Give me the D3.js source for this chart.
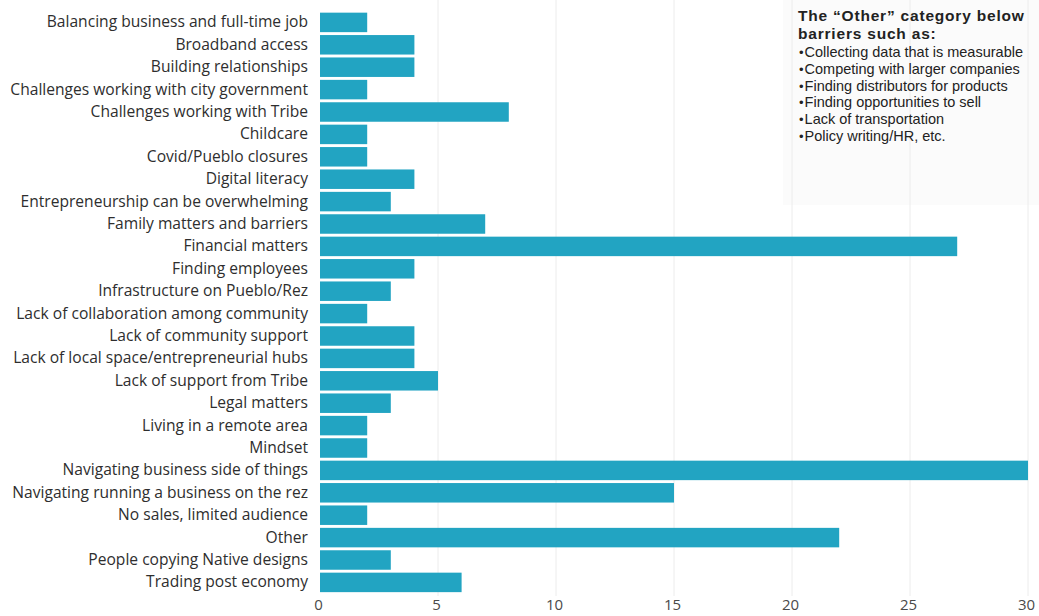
<!DOCTYPE html>
<html><head><meta charset="utf-8">
<script src="https://cdn.jsdelivr.net/npm/d3@7"></script>
<style>
html,body{margin:0;padding:0;background:#fff;overflow:hidden;}
svg{display:block;}
</style></head>
<body>
<svg id="chart" width="1039" height="616"></svg>
<script>
const categories = [
  "Balancing business and full-time job",
  "Broadband access",
  "Building relationships",
  "Challenges working with city government",
  "Challenges working with Tribe",
  "Childcare",
  "Covid/Pueblo closures",
  "Digital literacy",
  "Entrepreneurship can be overwhelming",
  "Family matters and barriers",
  "Financial matters",
  "Finding employees",
  "Infrastructure on Pueblo/Rez",
  "Lack of collaboration among community",
  "Lack of community support",
  "Lack of local space/entrepreneurial hubs",
  "Lack of support from Tribe",
  "Legal matters",
  "Living in a remote area",
  "Mindset",
  "Navigating business side of things",
  "Navigating running a business on the rez",
  "No sales, limited audience",
  "Other",
  "People copying Native designs",
  "Trading post economy"
];
const values = [2,4,4,2,8,2,2,4,3,7,27,4,3,2,4,4,5,3,2,2,30,15,2,22,3,6];
const xTicks = [0,5,10,15,20,25,30];
const noteTitle = ["The \u201COther\u201D category below", "barriers such as:"];
const noteItems = [
  "Collecting data that is measurable",
  "Competing with larger companies",
  "Finding distributors for products",
  "Finding opportunities to sell",
  "Lack of transportation",
  "Policy writing/HR, etc."
];

const svg = d3.select("#chart");
const x = d3.scaleLinear().domain([0,30]).range([320,1028]);
const y = d3.scaleBand().domain(categories).range([11.2,593.6]).paddingInner(0.13).paddingOuter(0.065);

// faint annotation panel
svg.append("rect").attr("x",783).attr("y",0).attr("width",256).attr("height",205).attr("fill","#fbfbfb");

// gridlines
svg.append("g").selectAll("line").data(xTicks.filter(d=>d>0)).join("line")
  .attr("x1",d=>x(d)).attr("x2",d=>x(d))
  .attr("y1",0).attr("y2",596)
  .attr("stroke","#ececec").attr("stroke-width",1);

// bars
svg.append("g").selectAll("rect").data(values).join("rect")
  .attr("x",x(0))
  .attr("y",(d,i)=>y(categories[i]))
  .attr("width",d=>x(d)-x(0))
  .attr("height",y.bandwidth())
  .attr("fill","#22a4c2");

// y axis labels
const yAxis = d3.axisLeft(y).tickSize(0).tickPadding(12);
const gy = svg.append("g").attr("transform",`translate(${x(0)},0)`).call(yAxis);
gy.select(".domain").remove();
gy.selectAll("text").attr("font-family","'Open Sans', sans-serif").attr("font-size","15.6px").attr("fill","#2e2e2e");

// x axis
const xAxis = d3.axisBottom(x).tickValues(xTicks).tickSize(0).tickPadding(0).tickFormat(d3.format("d"));
const gx = svg.append("g").attr("transform",`translate(-2,599)`).call(xAxis);
gx.select(".domain").remove();
gx.selectAll("text").attr("font-family","'Open Sans', sans-serif").attr("font-size","15px").attr("fill","#4a4a4a");

// annotation
const note = svg.append("g").attr("font-family","'Liberation Sans', Arial, sans-serif").attr("fill","#222");
note.selectAll("text.t").data(noteTitle).join("text").attr("class","t")
  .attr("x",798).attr("y",(d,i)=>21+i*18)
  .attr("font-weight","bold").attr("font-size","15.5px")
  .attr("letter-spacing","0.8px")
  .text(d=>d);
const items = note.selectAll("text.b").data(noteItems).join("text").attr("class","b")
  .attr("x",799).attr("y",(d,i)=>57+i*16.8)
  .attr("font-size","14.5px");
items.append("tspan").attr("font-size","13px").text("\u2022");
items.append("tspan").attr("dx",1).text(d=>d);
</script>
</body></html>
